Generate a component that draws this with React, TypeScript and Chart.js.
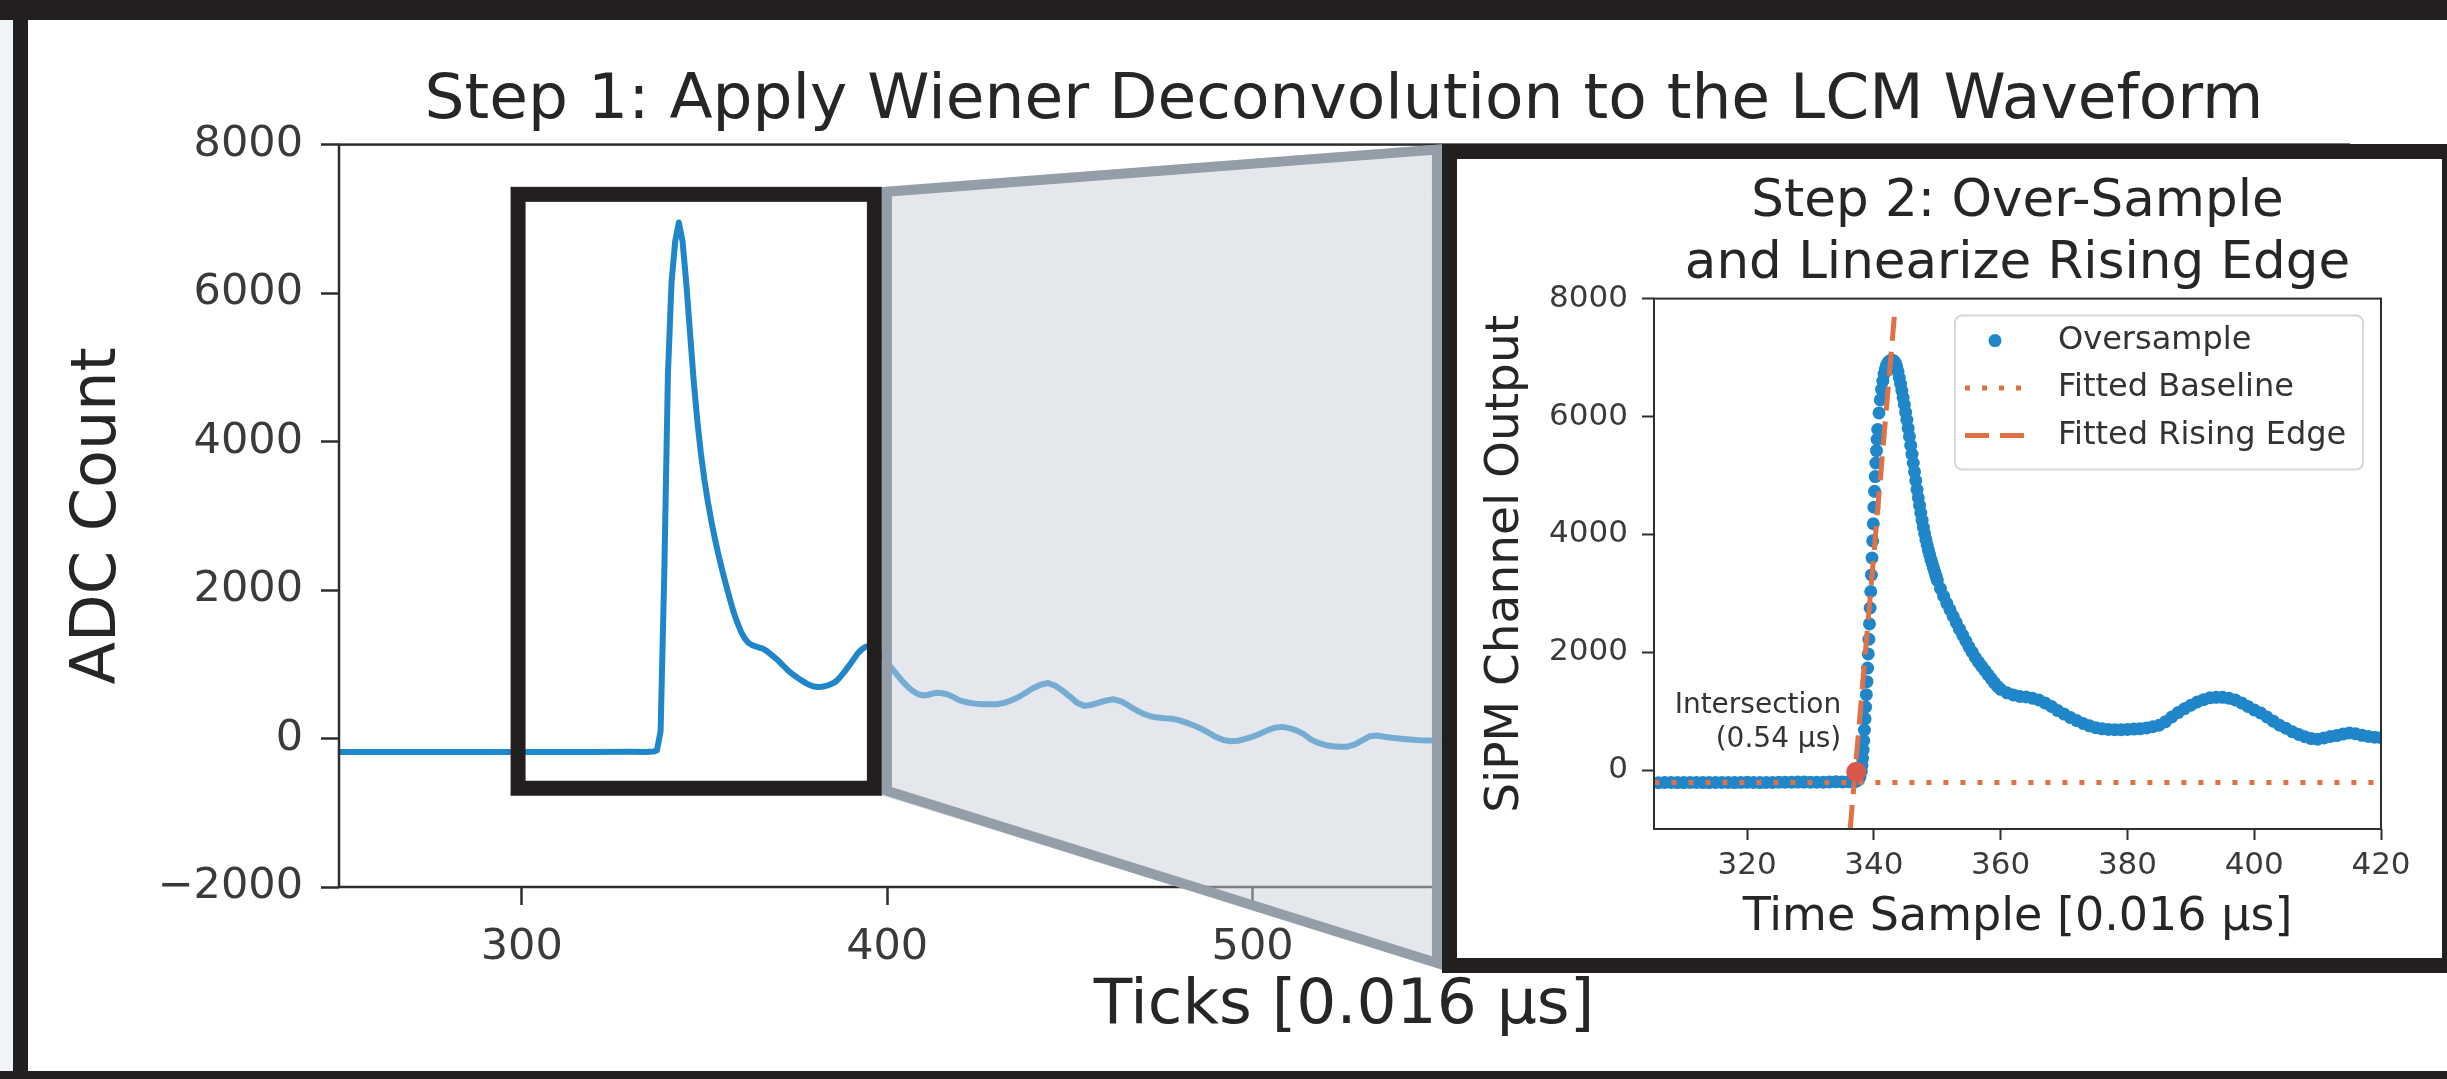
import React, { useEffect, useRef } from 'react';
import { Chart, registerables } from 'chart.js';

Chart.register(...registerables);

const FONT = "'DejaVu Sans', 'Liberation Sans', sans-serif";
const BLUE = '#1f87c9';
const ORANGE = '#e07045';
const RED = '#d9574b';
const AXIS = '#2e2e2e';
const TICK = '#3a3a3a';
const TEXT = '#262626';
const FRAME = '#231f20';

// ---------------- Step 1: LCM waveform (ticks, ADC counts) ----------------
const mainBaseline: [number, number][] = [
  [250, -180], [260, -181], [270, -180], [280, -182], [290, -181], [300, -182], [310, -180],
  [320, -181], [330, -179], [334, -180], [335, -178], [336, -176], [337, -160],
];
const mainPulse: [number, number][] = [
  [338, 100], [339, 2200], [340, 4900], [341, 6150], [342, 6700], [343, 6950], [344, 6700],
  [345, 6150], [346, 5500], [347, 4850], [348, 4300], [349, 3850], [350, 3480], [351, 3170],
  [352, 2900], [353, 2660], [354, 2440], [355, 2240], [356, 2050], [357, 1870], [358, 1700],
  [359, 1560], [360, 1440], [361, 1350], [362, 1290], [363, 1260], [364, 1240], [365, 1225],
  [366, 1210], [367, 1180], [368, 1140], [369, 1100], [370, 1060], [371, 1010], [372, 960],
  [373, 910], [374, 870], [375, 835], [376, 800], [377, 770], [378, 740], [379, 715],
  [380, 700], [381, 694], [382, 698], [383, 705], [384, 720], [385, 740], [386, 770],
  [387, 820], [388, 880], [389, 945], [390, 1010], [391, 1080], [392, 1150], [393, 1200],
  [394, 1235], [395, 1245], [396, 1230], [397, 1190], [398, 1150], [399, 1080], [400, 1010],
];
const mainTail: [number, number][] = [
  [401, 960], [402, 900], [403, 840], [404, 780], [405, 730], [406, 680], [407, 640],
  [408, 610], [409, 590], [410, 580], [411, 585], [412, 600], [413, 612], [414, 615],
  [415, 610], [416, 600], [417, 585], [418, 560], [419, 535], [420, 510], [422, 485],
  [424, 470], [426, 462], [428, 460], [430, 462], [432, 480], [434, 515], [436, 560],
  [438, 620], [440, 680], [442, 725], [444, 748], [446, 710], [448, 645], [450, 565],
  [452, 480], [454, 440], [456, 455], [458, 485], [460, 512], [462, 528], [464, 500],
  [466, 445], [468, 385], [470, 335], [472, 300], [474, 282], [476, 272], [478, 266],
  [480, 245], [482, 210], [484, 175], [486, 130], [488, 75], [490, 20], [492, -20],
  [494, -36], [496, -30], [498, -5], [500, 25], [502, 65], [504, 110], [506, 145],
  [508, 157], [510, 140], [512, 110], [514, 60], [516, -15], [518, -60], [520, -90],
  [522, -105], [524, -112], [526, -110], [528, -80], [530, -25], [532, 30], [534, 40],
  [536, 25], [538, 10], [540, 0], [542, -10], [544, -18], [546, -25], [548, -28],
  [550, -25], [552, -20], [556, -15], [560, -20],
];
const mainXTickValues = [300, 400, 500, 600, 700, 800];
const mainYTickValues = [-2000, 0, 2000, 4000, 6000, 8000];

// zoom-box annotation (data coordinates of the main axes)
const zoomBoxTicks = [299, 396.5];
const zoomBoxAdc = [-670, 7330];
const insetEdgeTick = 551.8;
const insetEdgeAdc = [8000, -3090];

// ---------------- Step 2: over-sampled rising edge ----------------
const oversampleBaseline: [number, number][] = [
  [304, -211], [305, -212], [306, -214], [307, -211], [308, -210], [309, -213], [310, -212],
  [311, -210], [312, -211], [313, -213], [314, -212], [315, -210], [316, -209], [317, -211],
  [318, -212], [319, -210], [320, -208], [321, -210], [322, -212], [323, -211], [324, -209],
  [325, -206], [326, -205], [327, -207], [328, -204], [329, -203], [330, -205], [331, -207],
  [332, -206], [333, -201], [334, -198], [335, -201], [336, -200], [336.5, -198],
];
const oversampleRise: [number, number][] = [
  [337.0, -195], [337.3, -185], [337.6, -160], [337.8, -110], [338.0, -20], [338.1, 80],
  [338.2, 200], [338.3, 340], [338.4, 500], [338.5, 680], [338.6, 870], [338.7, 1070],
  [338.8, 1280], [338.9, 1500], [339.0, 1730], [339.1, 1970], [339.2, 2220], [339.3, 2480],
  [339.4, 2750], [339.5, 3030], [339.6, 3310], [339.7, 3600], [339.8, 3890], [339.9, 4180],
  [340.0, 4460], [340.1, 4730], [340.2, 4980], [340.3, 5210], [340.4, 5420], [340.5, 5610],
  [340.6, 5780], [340.8, 6060], [341.0, 6280], [341.2, 6460], [341.4, 6600], [341.6, 6720],
  [341.8, 6810], [342.0, 6870], [342.2, 6910], [342.4, 6935], [342.6, 6950], [342.8, 6955],
];
const oversampleFall: [number, number][] = [
  [343.0, 6950], [343.2, 6935], [343.4, 6900], [343.6, 6840], [343.8, 6760], [344.0, 6660],
  [344.2, 6550], [344.4, 6440], [344.6, 6320], [344.8, 6200], [345.0, 6070], [345.2, 5940],
  [345.4, 5800], [345.6, 5660], [345.8, 5510], [346.0, 5360], [346.2, 5210], [346.4, 5060],
  [346.6, 4910], [346.8, 4760], [347.0, 4620], [347.2, 4490], [347.4, 4360], [347.6, 4240],
  [347.8, 4120], [348.0, 4010], [348.2, 3910], [348.4, 3820], [348.6, 3730], [348.8, 3650],
  [349.0, 3570], [349.2, 3500], [349.4, 3430], [349.6, 3360], [349.8, 3290], [350.0, 3220],
  [350.5, 3080], [351.0, 2950], [351.5, 2830], [352.0, 2720], [352.5, 2610], [353.0, 2500],
  [353.5, 2390], [354.0, 2290], [354.5, 2190], [355.0, 2090], [355.5, 2000], [356.0, 1910],
  [356.5, 1830], [357.0, 1760], [357.5, 1690], [358.0, 1620], [358.5, 1550], [359.0, 1480],
  [359.5, 1420],
];
const oversampleTail: [number, number][] = [
  [360, 1370], [361, 1310], [362, 1275], [363, 1250], [364, 1240], [365, 1220], [366, 1190],
  [367, 1140], [368, 1080], [369, 1010], [370, 950], [371, 890], [372, 840], [373, 790],
  [374, 750], [375, 720], [376, 700], [377, 690], [378, 685], [379, 685], [380, 690],
  [381, 695], [382, 700], [383, 715], [384, 735], [385, 760], [386, 820], [387, 900],
  [388, 975], [389, 1040], [390, 1100], [391, 1155], [392, 1195], [393, 1225], [394, 1235],
  [395, 1235], [396, 1220], [397, 1190], [398, 1140], [399, 1080], [400, 1020], [401, 970],
  [402, 900], [403, 830], [404, 760], [405, 710], [406, 650], [407, 605], [408, 565],
  [409, 535], [410, 525], [411, 545], [412, 570], [413, 585], [414, 610], [415, 630],
  [416, 615], [417, 590], [418, 570], [419, 558], [420, 550],
];
const baselineValue = -210;
const baselineSpan = [300, 425];
const risingEdgeTime = [336.25, 343.3];
const risingEdgeValue = [-1000, 7800];
const intersectionTime = [337.2];
const intersectionValue = [-30];
const insetXTickValues = [320, 340, 360, 380, 400, 420];
const insetYTickValues = [0, 2000, 4000, 6000, 8000];
const legendLabels = ['Oversample', 'Fitted Baseline', 'Fitted Rising Edge'];
const intersectionLabel = ['Intersection', '(0.54 µs)'];

const toPoints = (arr: [number, number][]) => arr.map(([x, y]) => ({ x, y }));
const fmtTick = (v: number) => (v < 0 ? '\u2212' + Math.abs(v) : String(v));

const mainOverlay = {
  id: 'mainOverlay',
  afterDatasetsDraw(chart: any) {
    const { ctx, chartArea: a } = chart;
    const xs = chart.scales.x;
    const ys = chart.scales.y;
    ctx.save();
    ctx.strokeStyle = AXIS;
    ctx.lineWidth = 2.5;
    ctx.strokeRect(a.left, a.top, a.right - a.left, a.bottom - a.top);
    // zoom box
    const bl = xs.getPixelForValue(zoomBoxTicks[0]);
    const br = xs.getPixelForValue(zoomBoxTicks[1]);
    const bt = ys.getPixelForValue(zoomBoxAdc[1]);
    const bb = ys.getPixelForValue(zoomBoxAdc[0]);
    ctx.strokeStyle = FRAME;
    ctx.lineWidth = 15;
    ctx.lineJoin = 'miter';
    ctx.strokeRect(bl, bt, br - bl, bb - bt);
    // connector trapezoid
    const L = br + 7.5, T1 = bt - 7.5, B1 = bb + 7.5;
    const R = xs.getPixelForValue(insetEdgeTick);
    const T2 = ys.getPixelForValue(insetEdgeAdc[0]);
    const B2 = ys.getPixelForValue(insetEdgeAdc[1]);
    ctx.beginPath();
    ctx.moveTo(L, T1); ctx.lineTo(R, T2); ctx.lineTo(R, B2); ctx.lineTo(L, B1); ctx.closePath();
    ctx.fillStyle = 'rgba(201,209,219,0.5)';
    ctx.fill();
    const h = 5;
    ctx.beginPath();
    ctx.moveTo(L + h, T1 + h); ctx.lineTo(R - h, T2 + h); ctx.lineTo(R - h, B2 - h); ctx.lineTo(L + h, B1 - h); ctx.closePath();
    ctx.strokeStyle = '#939ea9';
    ctx.lineWidth = 10;
    ctx.stroke();
    ctx.restore();
  },
};

const insetOverlay = {
  id: 'insetOverlay',
  afterDatasetsDraw(chart: any) {
    const { ctx, chartArea: a } = chart;
    const xs = chart.scales.x;
    const ys = chart.scales.y;
    ctx.save();
    ctx.strokeStyle = AXIS;
    ctx.lineWidth = 2;
    ctx.strokeRect(a.left, a.top, a.right - a.left, a.bottom - a.top);
    // annotation
    const px = xs.getPixelForValue(intersectionTime[0]);
    const py = ys.getPixelForValue(intersectionValue[0]);
    ctx.font = `28px ${FONT}`;
    ctx.fillStyle = '#333333';
    ctx.textAlign = 'right';
    ctx.textBaseline = 'middle';
    ctx.fillText(intersectionLabel[0], px - 15, py - 66);
    ctx.fillText(intersectionLabel[1], px - 15, py - 32);
    // legend
    const w = 408, hgt = 154;
    const x0 = a.right - 18 - w, y0 = a.top + 17;
    ctx.beginPath();
    ctx.roundRect(x0, y0, w, hgt, 7);
    ctx.fillStyle = 'rgba(255,255,255,0.85)';
    ctx.fill();
    ctx.strokeStyle = '#d4d8dd';
    ctx.lineWidth = 2;
    ctx.stroke();
    const ds = chart.data.datasets;
    legendLabels.forEach((label, i) => {
      const d = ds.find((s: any) => s.label === label);
      const y = y0 + 25 + i * 47.5;
      if (d.showLine) {
        ctx.beginPath();
        ctx.setLineDash(d.borderDash || []);
        ctx.lineWidth = d.borderWidth;
        ctx.strokeStyle = d.borderColor;
        ctx.moveTo(x0 + 10, y);
        ctx.lineTo(x0 + 70, y);
        ctx.stroke();
        ctx.setLineDash([]);
      } else {
        ctx.beginPath();
        ctx.arc(x0 + 40, y, d.pointRadius, 0, Math.PI * 2);
        ctx.fillStyle = d.backgroundColor;
        ctx.fill();
      }
      ctx.font = `32px ${FONT}`;
      ctx.fillStyle = '#333333';
      ctx.textAlign = 'left';
      ctx.textBaseline = 'middle';
      ctx.fillText(label, x0 + 103, y);
    });
    ctx.restore();
  },
};

export default function App() {
  const mainRef = useRef<HTMLCanvasElement>(null);
  const insetRef = useRef<HTMLCanvasElement>(null);

  useEffect(() => {
    const main = new Chart(mainRef.current as HTMLCanvasElement, {
      type: 'line',
      data: {
        datasets: [
          {
            label: 'LCM waveform',
            data: toPoints([...mainBaseline, ...mainPulse, ...mainTail]),
            borderColor: BLUE,
            borderWidth: 6,
            pointRadius: 0,
            tension: 0,
            fill: false,
            borderJoinStyle: 'round',
          },
        ],
      },
      options: {
        animation: false,
        responsive: false,
        maintainAspectRatio: false,
        devicePixelRatio: 1,
        layout: { padding: { left: 0, right: 98, top: 0, bottom: 0 } },
        plugins: {
          legend: { display: false },
          tooltip: { enabled: false },
          title: {
            display: true,
            fullSize: false,
            text: 'Step 1: Apply Wiener Deconvolution to the LCM Waveform',
            font: { family: FONT, size: 63, weight: 'normal' },
            color: TEXT,
            padding: { top: 64, bottom: 5 },
          },
        },
        scales: {
          x: {
            type: 'linear',
            min: 250,
            max: 800,
            afterBuildTicks: (s: any) => { s.ticks = mainXTickValues.map((v) => ({ value: v })); },
            afterFit: (s: any) => { s.height = 192; },
            grid: { drawOnChartArea: false, drawTicks: true, tickLength: 18, tickWidth: 2.5, tickColor: AXIS },
            border: { display: false },
            ticks: { font: { family: FONT, size: 43 }, color: TICK, padding: 17, maxRotation: 0, autoSkip: false, callback: (v: any) => fmtTick(v) },
            title: { display: true, text: 'Ticks [0.016 µs]', font: { family: FONT, size: 63 }, color: TEXT, padding: { top: 0, bottom: 35 } },
          },
          y: {
            type: 'linear',
            min: -2000,
            max: 8000,
            afterBuildTicks: (s: any) => { s.ticks = mainYTickValues.map((v) => ({ value: v })); },
            afterFit: (s: any) => { s.width = 339; },
            grid: { drawOnChartArea: false, drawTicks: true, tickLength: 18, tickWidth: 2.5, tickColor: AXIS },
            border: { display: false },
            ticks: { font: { family: FONT, size: 43 }, color: TICK, padding: 18, autoSkip: false, callback: (v: any) => fmtTick(v) },
            title: { display: true, text: 'ADC Count', font: { family: FONT, size: 62 }, color: TEXT, padding: { top: 62, bottom: 0 } },
          },
        },
      },
      plugins: [mainOverlay],
    } as any);

    const inset = new Chart(insetRef.current as HTMLCanvasElement, {
      type: 'scatter',
      data: {
        datasets: [
          {
            label: 'Intersection',
            data: intersectionTime.map((t, i) => ({ x: t, y: intersectionValue[i] })),
            backgroundColor: RED,
            borderWidth: 0,
            pointRadius: 10,
            order: 0,
          },
          {
            label: 'Fitted Rising Edge',
            data: risingEdgeTime.map((t, i) => ({ x: t, y: risingEdgeValue[i] })),
            showLine: true,
            borderColor: ORANGE,
            borderWidth: 5,
            borderDash: [24, 11],
            pointRadius: 0,
            order: 1,
          },
          {
            label: 'Fitted Baseline',
            data: baselineSpan.map((t) => ({ x: t, y: baselineValue })),
            showLine: true,
            borderColor: ORANGE,
            borderWidth: 5,
            borderDash: [5, 12],
            pointRadius: 0,
            order: 2,
          },
          {
            label: 'Oversample',
            data: toPoints([...oversampleBaseline, ...oversampleRise, ...oversampleFall, ...oversampleTail]),
            backgroundColor: BLUE,
            borderWidth: 0,
            pointRadius: 6.5,
            order: 3,
          },
        ],
      },
      options: {
        animation: false,
        responsive: false,
        maintainAspectRatio: false,
        devicePixelRatio: 1,
        layout: { padding: { left: 0, right: 61, top: 0, bottom: 0 } },
        plugins: {
          legend: { display: false },
          tooltip: { enabled: false },
          title: {
            display: true,
            fullSize: false,
            text: ['Step 2: Over-Sample', 'and Linearize Rising Edge'],
            font: { family: FONT, size: 51.5, weight: 'normal', lineHeight: 1.2 },
            color: TEXT,
            padding: { top: 13, bottom: 3 },
          },
        },
        scales: {
          x: {
            type: 'linear',
            min: 305.3,
            max: 420,
            afterBuildTicks: (s: any) => { s.ticks = insetXTickValues.map((v) => ({ value: v })); },
            afterFit: (s: any) => { s.height = 129; },
            grid: { drawOnChartArea: false, drawTicks: true, tickLength: 11, tickWidth: 2, tickColor: AXIS },
            border: { display: false },
            ticks: { font: { family: FONT, size: 31 }, color: TICK, padding: 7, maxRotation: 0, autoSkip: false, callback: (v: any) => fmtTick(v) },
            title: { display: true, text: 'Time Sample [0.016 µs]', font: { family: FONT, size: 46 }, color: TEXT, padding: { top: 0, bottom: 12 } },
          },
          y: {
            type: 'linear',
            min: -1000,
            max: 8000,
            afterBuildTicks: (s: any) => { s.ticks = insetYTickValues.map((v) => ({ value: v })); },
            afterFit: (s: any) => { s.width = 197; },
            grid: { drawOnChartArea: false, drawTicks: true, tickLength: 12, tickWidth: 2, tickColor: AXIS },
            border: { display: false },
            ticks: { font: { family: FONT, size: 31 }, color: TICK, padding: 14, autoSkip: false, callback: (v: any) => fmtTick(v) },
            title: { display: true, text: 'SiPM Channel Output', font: { family: FONT, size: 47 }, color: TEXT, padding: { top: 21, bottom: 0 } },
          },
        },
      },
      plugins: [insetOverlay],
    } as any);

    return () => {
      main.destroy();
      inset.destroy();
    };
  }, []);

  const abs = (l: number, t: number, w: number, h: number, bg: string): React.CSSProperties => ({
    position: 'absolute', left: l, top: t, width: w, height: h, background: bg,
  });

  return (
    <div style={{ position: 'absolute', left: 0, top: 0, width: 2447, height: 1079, overflow: 'hidden', background: '#ffffff' }}>
      <canvas ref={mainRef} width={2447} height={1079} style={{ position: 'absolute', left: 0, top: 0, width: 2447, height: 1079 }} />
      <div style={abs(0, 0, 13, 1079, '#f2f5f8')} />
      <div style={abs(0, 0, 2447, 20, FRAME)} />
      <div style={abs(13, 0, 15, 1079, FRAME)} />
      <div style={abs(0, 1071, 2447, 8, FRAME)} />
      <div style={{ position: 'absolute', left: 1442, top: 144, width: 1015, height: 829, boxSizing: 'border-box', border: `15px solid ${FRAME}`, background: '#ffffff' }}>
        <canvas ref={insetRef} width={985} height={799} style={{ display: 'block', width: 985, height: 799 }} />
      </div>
    </div>
  );
}
